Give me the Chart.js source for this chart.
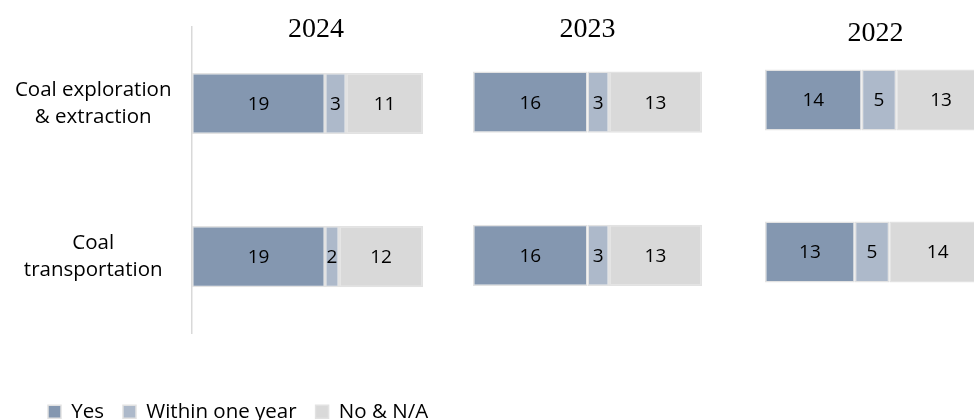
<!DOCTYPE html>
<html>
<head>
<meta charset="utf-8">
<script src="https://cdn.jsdelivr.net/npm/chart.js@4.4.1/dist/chart.umd.min.js"></script>
<style>
html,body{margin:0;padding:0;width:974px;height:420px;overflow:hidden;background:#ffffff;}
canvas{position:absolute;top:0;}
</style>
</head>
<body>
<canvas id="c2024" width="632" height="432" style="left:0px"></canvas>
<canvas id="c2023" width="229" height="332" style="left:473px"></canvas>
<canvas id="c2022" width="221" height="328" style="left:765px"></canvas>
<script>
// ---- data ----
const categories = [['Coal exploration', '& extraction'], ['Coal', 'transportation']];
const seriesNames = ['Yes', 'Within one year', 'No & N/A'];
const years = ['2024', '2023', '2022'];

const yes2024 = [19, 19];
const within2024 = [3, 2];
const no2024 = [11, 12];

const yes2023 = [16, 16];
const within2023 = [3, 3];
const no2023 = [13, 13];

const yes2022 = [14, 13];
const within2022 = [5, 5];
const no2022 = [13, 14];

// ---- style ----
const colors = ['#8497B0', '#ADB9CA', '#D9D9D9'];
Chart.defaults.font.family = "'Open Sans', sans-serif";
Chart.defaults.color = '#000000';

const valueLabels = {
  id: 'valueLabels',
  afterDatasetsDraw(chart) {
    const ctx = chart.ctx;
    ctx.save();
    ctx.font = "19px 'Open Sans', sans-serif";
    ctx.fillStyle = '#000000';
    ctx.textAlign = 'center';
    ctx.textBaseline = 'middle';
    chart.data.datasets.forEach((ds, i) => {
      const meta = chart.getDatasetMeta(i);
      meta.data.forEach((bar, j) => {
        const p = bar.getCenterPoint();
        ctx.fillText(String(ds.data[j]), p.x, p.y + 1);
      });
    });
    ctx.restore();
  }
};

// shifts the legend row to the right of the canvas edge
const legendOffset = {
  id: 'legendOffset',
  afterLayout(chart, args, opts) {
    if (chart.legend && opts && opts.dx) {
      chart.legend.left += opts.dx;
      chart.legend.right += opts.dx;
    }
  }
};

function buildDatasets(series) {
  return series.map((vals, k) => ({
    label: seriesNames[k],
    data: vals,
    backgroundColor: colors[k],
    borderColor: '#E2E2E2',
    borderWidth: 1.5,
    borderSkipped: false,
    categoryPercentage: 1.0,
    barPercentage: 0.4,
    xAxisID: 'x',
    yAxisID: 'y'
  }));
}

function totalMax(series) {
  let m = 0;
  for (let j = 0; j < categories.length; j++) {
    let s = 0;
    series.forEach(v => { s += v[j]; });
    m = Math.max(m, s);
  }
  return m;
}

function makePanel(id, year, series, titlePad, first) {
  const scales = {
    y: {
      type: 'category',
      position: 'left',
      stacked: true,
      display: first,
      grid: { display: false, drawTicks: false },
      border: { display: first, color: '#D9D9D9', width: 1.5 },
      ticks: { crossAlign: 'center', padding: 20.5, font: { size: 20.5, lineHeight: 1.317 }, color: '#000000' },
      afterFit: s => { if (first) { s.width = 192; } s.paddingTop = 0; s.paddingBottom = 0; }
    },
    x: {
      type: 'linear',
      stacked: true,
      min: 0,
      max: totalMax(series),
      display: first,
      grid: { display: false, drawTicks: false },
      border: { display: false },
      ticks: { display: false },
      afterFit: s => { if (first) { s.height = 49.45; } s.paddingLeft = 0; s.paddingRight = 0; }
    }
  };
  if (first) {
    scales.yr = {
      type: 'linear',
      position: 'right',
      display: true,
      grid: { display: false, drawTicks: false },
      border: { display: false },
      ticks: { display: false },
      afterFit: s => { s.width = 209; s.paddingTop = 0; s.paddingBottom = 0; }
    };
  }
  return new Chart(document.getElementById(id), {
    type: 'bar',
    data: { labels: categories, datasets: buildDatasets(series) },
    options: {
      indexAxis: 'y',
      responsive: false,
      animation: false,
      devicePixelRatio: 1,
      layout: { padding: 0 },
      scales: scales,
      plugins: {
        title: {
          display: true,
          text: year,
          align: 'center',
          color: '#000000',
          font: { family: "'Liberation Serif', 'Times New Roman', serif", size: 28, weight: 'normal', lineHeight: 1.2 },
          padding: titlePad
        },
        legend: {
          display: first,
          position: 'bottom',
          align: 'start',
          labels: { boxWidth: 13, boxHeight: 13, padding: 19, font: { size: 20.5 }, color: '#000000' }
        },
        legendOffset: { dx: first ? 29 : 0 },
        tooltip: { enabled: false }
      }
    },
    plugins: [valueLabels, legendOffset]
  });
}

makePanel('c2024', years[0], [yes2024, within2024, no2024], { top: 12.7, bottom: -19.3 }, true);
makePanel('c2023', years[1], [yes2023, within2023, no2023], { top: 13.2, bottom: -21.3 }, false);
makePanel('c2022', years[2], [yes2022, within2022, no2022], { top: 16.9, bottom: -26.5 }, false);
</script>
</body>
</html>
